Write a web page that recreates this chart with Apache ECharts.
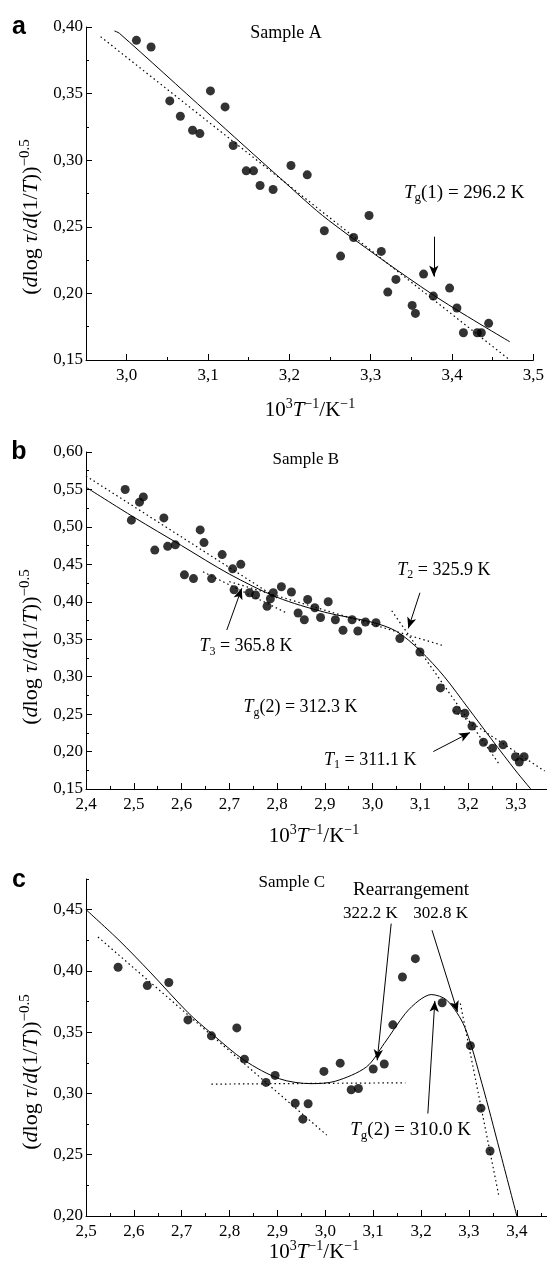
<!DOCTYPE html>
<html>
<head>
<meta charset="utf-8">
<script src="https://cdn.jsdelivr.net/npm/echarts@6/dist/echarts.min.js"></script>
<style>
  html, body { margin: 0; padding: 0; background: #fff; }
  #chart { width: 547px; height: 1275px; }
</style>
</head>
<body>
<div id="chart"></div>
<script>
// ---- data (x = 10^3/T, y = (dlog tau / d(1/T))^-0.5) ----
var aDots = [[3.012,0.390],[3.030,0.385],[3.053,0.3445],[3.066,0.333],[3.081,0.3225],[3.090,0.320],
  [3.103,0.352],[3.121,0.340],[3.131,0.311],[3.147,0.292],[3.156,0.292],[3.164,0.281],[3.180,0.278],
  [3.202,0.296],[3.222,0.289],[3.243,0.247],[3.263,0.228],[3.279,0.242],[3.298,0.2585],[3.313,0.2315],
  [3.321,0.201],[3.331,0.2105],[3.351,0.191],[3.355,0.185],[3.365,0.2145],[3.377,0.198],[3.397,0.204],
  [3.406,0.189],[3.414,0.1705],[3.431,0.1705],[3.436,0.1705],[3.445,0.1775]];
var aFit = [[2.985,0.397],[2.991,0.3953],[3.10,0.3353],[3.189,0.2864],[3.248,0.255],[3.377,0.1988],[3.471,0.1637]];
var aTangent = [[2.968,0.3927],[3.471,0.150]];

var bDots = [[2.482,0.550],[2.495,0.509],[2.512,0.533],[2.520,0.540],[2.544,0.469],[2.563,0.512],
  [2.571,0.474],[2.587,0.476],[2.606,0.436],[2.625,0.431],[2.639,0.496],[2.647,0.479],[2.663,0.431],
  [2.685,0.463],[2.707,0.444],[2.724,0.450],[2.710,0.416],[2.742,0.412],[2.755,0.409],[2.779,0.394],
  [2.786,0.404],[2.792,0.412],[2.809,0.420],[2.830,0.413],[2.844,0.385],[2.857,0.376],[2.864,0.403],
  [2.879,0.392],[2.891,0.379],[2.907,0.400],[2.922,0.376],[2.938,0.362],[2.957,0.376],[2.969,0.361],
  [2.985,0.373],[3.007,0.372],[3.057,0.351],[3.099,0.333],[3.142,0.285],[3.176,0.255],[3.193,0.251],
  [3.208,0.234],[3.232,0.2125],[3.251,0.2045],[3.273,0.209],[3.299,0.193],[3.307,0.186],[3.317,0.193]];
var bFit = [[2.40,0.553],[2.50,0.513],[2.60,0.475],[2.70,0.437],[2.80,0.406],[2.90,0.386],[3.00,0.3725],
  [3.05,0.3605],[3.10,0.3345],[3.15,0.300],[3.20,0.258],[3.25,0.2155],[3.30,0.174],[3.331,0.150]];
var bTan1 = [[2.40,0.568],[2.80,0.405]];
var bTan1b = [[2.645,0.440],[2.820,0.385]];
var bTan2 = [[2.70,0.427],[3.145,0.342]];
var bTan3 = [[3.04,0.388],[3.265,0.183]];
var bTan4 = [[3.17,0.254],[3.36,0.174]];

var cDots = [[2.567,0.403],[2.628,0.388],[2.673,0.3905],[2.713,0.360],[2.762,0.347],[2.815,0.3535],
  [2.831,0.328],[2.876,0.309],[2.895,0.3147],[2.937,0.292],[2.953,0.279],[2.964,0.2916],[2.997,0.318],
  [3.031,0.3247],[3.054,0.303],[3.069,0.304],[3.100,0.320],[3.123,0.324],[3.141,0.356],[3.161,0.395],
  [3.188,0.410],[3.244,0.374],[3.303,0.339],[3.325,0.288],[3.344,0.253]];
var cFit = [[2.50,0.450],[2.569,0.425],[2.634,0.399],[2.713,0.366],[2.762,0.349],[2.831,0.327],[2.904,0.312],
  [2.970,0.308],[3.021,0.310],[3.086,0.3217],[3.123,0.3408],[3.167,0.3652],[3.196,0.376],[3.221,0.3807],
  [3.254,0.376],[3.291,0.3543],[3.327,0.3082],[3.364,0.2538],[3.400,0.200]];
var cTan1 = [[2.525,0.4277],[3.003,0.266]];
var cTan2 = [[2.762,0.3076],[3.167,0.3087]];
var cTan3 = [[3.282,0.3734],[3.362,0.2171]];

// tick labels
var aXMajor = [3.0,3.1,3.2,3.3,3.4,3.5], aXMinor = [3.05,3.15,3.25,3.35,3.45];
var aYMajor = [0.15,0.20,0.25,0.30,0.35,0.40], aYMinor = [0.175,0.225,0.275,0.325,0.375];
var bXMajor = [2.4,2.5,2.6,2.7,2.8,2.9,3.0,3.1,3.2,3.3], bXMinor = [2.45,2.55,2.65,2.75,2.85,2.95,3.05,3.15,3.25];
var bYMajor = [0.15,0.20,0.25,0.30,0.35,0.40,0.45,0.50,0.55,0.60], bYMinor = [0.175,0.225,0.275,0.325,0.375,0.425,0.475,0.525,0.575];
var cXMajor = [2.5,2.6,2.7,2.8,2.9,3.0,3.1,3.2,3.3,3.4], cXMinor = [2.55,2.65,2.75,2.85,2.95,3.05,3.15,3.25,3.35,3.45];
var cYMajor = [0.20,0.25,0.30,0.35,0.40,0.45], cYMinor = [0.225,0.275,0.325,0.375,0.425,0.475];

var SERIF = 'Liberation Serif';
var chart = echarts.init(document.getElementById('chart'));

function comma(v, d) { return v.toFixed(d).replace('.', ','); }

// major axis (line, labels, long ticks) + hidden twin carrying the short ticks
function axisPair(dim, grid, min, max, major, minor, dec) {
  var pos = dim === 'x' ? 'bottom' : 'left';
  var main = {
    type: 'value', gridIndex: grid, min: min, max: max, position: pos,
    axisLine: { show: true, onZero: false, lineStyle: { color: '#000', width: 1 } },
    axisTick: { show: true, inside: true, length: 6, customValues: major, lineStyle: { color: '#000' } },
    axisLabel: { show: true, customValues: major, color: '#000', fontFamily: SERIF, fontSize: 17,
      margin: dim === 'x' ? 7 : 3, formatter: function (v) { return comma(v, dec); } },
    splitLine: { show: false }
  };
  var twin = {
    type: 'value', gridIndex: grid, min: min, max: max, position: pos, offset: 0,
    axisLine: { show: false, onZero: false },
    axisTick: { show: true, inside: true, length: 3, customValues: minor, lineStyle: { color: '#000' } },
    axisLabel: { show: false },
    splitLine: { show: false }
  };
  return [main, twin];
}

var ax = [
  axisPair('x', 0, 2.95, 3.5, aXMajor, aXMinor, 1),
  axisPair('x', 1, 2.4, 3.365, bXMajor, bXMinor, 1),
  axisPair('x', 2, 2.5, 3.463, cXMajor, cXMinor, 1)
];
var ay = [
  axisPair('y', 0, 0.15, 0.40, aYMajor, aYMinor, 2),
  axisPair('y', 1, 0.15, 0.60, bYMajor, bYMinor, 2),
  axisPair('y', 2, 0.20, 0.475, cYMajor, cYMinor, 2)
];

function dots(i, data, arrows) {
  return {
    type: 'scatter', xAxisIndex: i, yAxisIndex: i, data: data, symbol: 'circle', symbolSize: 9,
    itemStyle: { color: '#000' }, z: 5,
    markLine: {
      silent: true, symbol: ['none', 'arrow'], symbolSize: [7, 11], label: { show: false },
      lineStyle: { color: '#000', type: 'solid', width: 1 },
      data: arrows.map(function (a) { return [{ coord: a[0] }, { coord: a[1] }]; })
    }
  };
}
function curve(i, data, dotted) {
  return {
    type: 'line', xAxisIndex: i, yAxisIndex: i, data: data, showSymbol: false, symbol: 'none',
    smooth: dotted ? false : 0.3, clip: true, z: 3,
    lineStyle: { color: '#000', width: dotted ? 1.2 : 1, type: dotted ? [1.5, 3] : 'solid' }
  };
}

chart.setOption({
  animation: false,
  backgroundColor: '#fff',
  grid: [
    { left: 86, top: 27, width: 448, height: 333 },
    { left: 86, top: 452, width: 461, height: 337 },
    { left: 86, top: 879, width: 461, height: 337 }
  ],
  xAxis: [ax[0][0], ax[1][0], ax[2][0], ax[0][1], ax[1][1], ax[2][1]],
  yAxis: [ay[0][0], ay[1][0], ay[2][0], ay[0][1], ay[1][1], ay[2][1]],
  series: [
    curve(0, aTangent, true), curve(0, aFit, false),
    dots(0, aDots, [[[3.3776, 0.2426], [3.3776, 0.2126]]]),
    curve(1, bTan1, true), curve(1, bTan1b, true), curve(1, bTan2, true), curve(1, bTan3, true), curve(1, bTan4, true),
    curve(1, bFit, false),
    dots(1, bDots, [[[3.099, 0.412], [3.0747, 0.3645]], [[2.6947, 0.3623], [2.726, 0.4179]], [[3.127, 0.200], [3.2038, 0.2253]]]),
    curve(2, cTan1, true), curve(2, cTan2, true), curve(2, cTan3, true),
    curve(2, cFit, false),
    dots(2, cDots, [[[3.1375, 0.4386], [3.1083, 0.327]], [[3.2228, 0.4332], [3.2761, 0.3665]], [[3.2141, 0.2836], [3.2287, 0.3755]]])
  ]
});

function rich(size) {
  var s = Math.round(size * 0.68);
  return {
    n: { fontFamily: SERIF, fontSize: size, lineHeight: size + 4, color: '#000' },
    i: { fontFamily: SERIF, fontSize: size, lineHeight: size + 4, fontStyle: 'italic', color: '#000' },
    sub: { fontFamily: SERIF, fontSize: s, lineHeight: s, verticalAlign: 'bottom', color: '#000' },
    sup: { fontFamily: SERIF, fontSize: s, lineHeight: s, verticalAlign: 'top', color: '#000' }
  };
}

// annotations placed in data coordinates of each panel
var notes = [
  [0, [3.196, 0.3955], '{n|Sample A}', 18],
  [0, [3.415, 0.2754], '{i|T}{sub|g}{n|(1) = 296.2 K}', 19],
  [1, [2.860, 0.590], '{n|Sample B}', 17],
  [1, [3.149, 0.4425], '{i|T}{sub|2}{n| = 325.9 K}', 18],
  [1, [2.735, 0.340], '{i|T}{sub|3}{n| = 365.8 K}', 18],
  [1, [2.849, 0.2587], '{i|T}{sub|g}{n|(2) = 312.3 K}', 18],
  [1, [2.995, 0.189], '{i|T}{sub|1}{n| = 311.1 K}', 18],
  [2, [2.930, 0.4725], '{n|Sample C}', 17],
  [2, [3.179, 0.4663], '{n|Rearrangement}', 19],
  [2, [3.094, 0.4467], '{n|322.2 K}', 17],
  [2, [3.241, 0.4467], '{n|302.8 K}', 17],
  [2, [3.178, 0.270], '{i|T}{sub|g}{n|(2) = 310.0 K}', 19]
];

var graphics = [];
notes.forEach(function (t) {
  var p = chart.convertToPixel({ xAxisIndex: t[0], yAxisIndex: t[0] }, t[1]);
  graphics.push({ type: 'text', x: p[0], y: p[1], z: 10,
    style: { text: t[2], rich: rich(t[3]), align: 'center', verticalAlign: 'middle' } });
});

var yName = '{n|(}{i|d}{n|log }{i|τ}{n|/}{i|d}{n|(1/}{i|T}{n|))}{sup|−0.5}';
var xName = '{n|10}{sup|3}{i|T}{sup|−1}{n|/K}{sup|−1}';
[[31, 217], [31, 647], [31, 1072]].forEach(function (p) {
  graphics.push({ type: 'text', x: p[0], y: p[1], rotation: Math.PI / 2,
    style: { text: yName, rich: rich(22), align: 'center', verticalAlign: 'middle' } });
});
[[310, 410], [314, 836], [314, 1252]].forEach(function (p) {
  graphics.push({ type: 'text', x: p[0], y: p[1],
    style: { text: xName, rich: rich(21), align: 'center', verticalAlign: 'middle' } });
});
[['a', 27], ['b', 452], ['c', 880]].forEach(function (l) {
  graphics.push({ type: 'text', x: 19, y: l[1],
    style: { text: l[0], fontFamily: 'Liberation Sans', fontWeight: 'bold', fontSize: 25, fill: '#000',
      align: 'center', verticalAlign: 'middle' } });
});

chart.setOption({ graphic: graphics });
</script>
</body>
</html>
